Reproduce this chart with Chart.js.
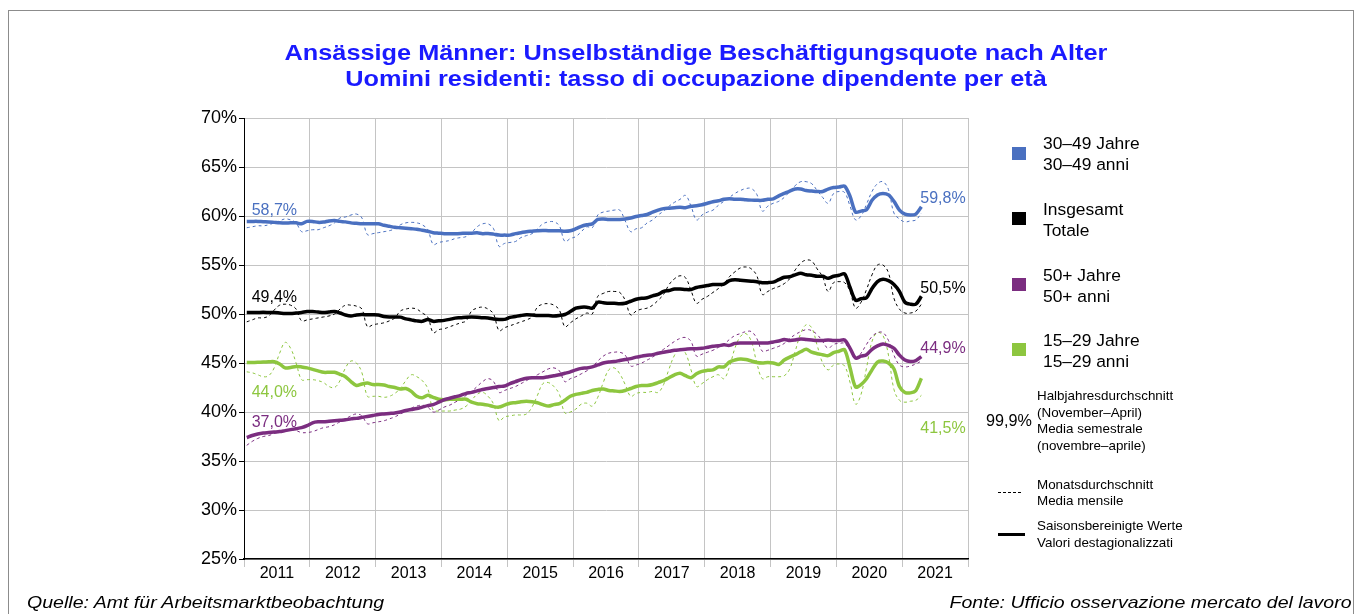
<!DOCTYPE html>
<html>
<head>
<meta charset="utf-8">
<script src="https://cdn.jsdelivr.net/npm/chart.js@4"></script>
<style>
  html, body { margin: 0; padding: 0; background: #fff; }
  body { width: 1357px; height: 614px; position: relative; overflow: hidden; font-family: "Liberation Sans", Arial, sans-serif; color: #000; }
  #frame { position: absolute; left: 8px; top: 10px; right: 3px; height: 640px; border: 1px solid #8c8c8c; }
  #c { position: absolute; left: 0; top: 0; }
  .title { position: absolute; left: 0; width: 1392px; top: 40px; text-align: center; color: #1a1aff; font-weight: bold; font-size: 22px; line-height: 26px; transform: scaleX(1.15); transform-origin: 696px 0; }
  .sw { position: absolute; left: 1012px; width: 14px; height: 13px; }
  .lt { position: absolute; left: 1043px; font-size: 17.4px; line-height: 20.5px; }
  .small { position: absolute; left: 1037px; font-size: 13.4px; line-height: 16.6px; }
  .foot { position: absolute; top: 593px; font-size: 17px; line-height: 20px; font-style: italic; transform: scaleX(1.15); }
</style>
</head>
<body>
<div id="frame"></div>
<canvas id="c" width="1357" height="614"></canvas>
<div class="title">Ansässige Männer: Unselbständige Beschäftigungsquote nach Alter<br>Uomini residenti: tasso di occupazione dipendente per età</div>

<div class="sw" style="top:147px;background:#4a70c0"></div>
<div class="lt" style="top:133px">30–49 Jahre<br>30–49 anni</div>
<div class="sw" style="top:212px;background:#000"></div>
<div class="lt" style="top:199px">Insgesamt<br>Totale</div>
<div class="sw" style="top:278px;background:#7b2d80"></div>
<div class="lt" style="top:265px">50+ Jahre<br>50+ anni</div>
<div class="sw" style="top:343px;background:#8dc63f"></div>
<div class="lt" style="top:330px">15–29 Jahre<br>15–29 anni</div>

<div style="position:absolute;left:986px;top:411px;font-size:16.2px;">99,9%</div>
<div class="small" style="top:388px">Halbjahresdurchschnitt<br>(November–April)<br>Media semestrale<br>(novembre–aprile)</div>
<div style="position:absolute;left:998px;top:492px;width:23px;border-top:1px dashed #000;"></div>
<div class="small" style="top:477px;line-height:15.5px">Monatsdurchschnitt<br>Media mensile</div>
<div style="position:absolute;left:998px;top:533px;width:27px;height:3px;background:#000;"></div>
<div class="small" style="top:518px">Saisonsbereinigte Werte<br>Valori destagionalizzati</div>

<div class="foot" style="left:27px;transform-origin:0 0">Quelle: Amt für Arbeitsmarktbeobachtung</div>
<div class="foot" style="right:5px;transform-origin:100% 0">Fonte: Ufficio osservazione mercato del lavoro</div>

<script>
// years on the x axis, monthly data Jan 2011 - Apr 2021
const years = ['2011', '2012', '2013', '2014', '2015', '2016', '2017', '2018', '2019', '2020', '2021'];

// 30-49 Jahre
const blueSA = [
  59.45, 59.45, 59.45, 59.42, 59.4, 59.35, 59.3, 59.28, 59.3, 59.3, 59.2, 59.45,
  59.45, 59.35, 59.38, 59.5, 59.55, 59.45, 59.4, 59.3, 59.25, 59.2, 59.2, 59.2,
  59.2, 59.05, 58.95, 58.85, 58.8, 58.75, 58.7, 58.65, 58.55, 58.45, 58.3, 58.25,
  58.2, 58.2, 58.2, 58.22, 58.25, 58.25, 58.28, 58.2, 58.22, 58.15, 58.05, 58.05,
  58.05, 58.2, 58.3, 58.4, 58.45, 58.5, 58.53, 58.5, 58.5, 58.5, 58.45, 58.5,
  58.7, 58.95, 59.1, 59.2, 59.65, 59.7, 59.65, 59.65, 59.65, 59.7, 59.8, 59.95,
  60.05, 60.15, 60.4, 60.6, 60.75, 60.8, 60.85, 60.9, 60.85, 61.0, 61.05, 61.15,
  61.3, 61.45, 61.55, 61.7, 61.75, 61.7, 61.7, 61.65, 61.62, 61.6, 61.6, 61.7,
  61.75, 62.05, 62.3, 62.55, 62.75, 62.75, 62.6, 62.55, 62.5, 62.5, 62.75, 62.9,
  62.95, 63.05, 62.0, 60.4, 60.5, 60.65, 61.6, 62.15, 62.3, 62.15, 61.5, 60.6,
  60.2, 60.1, 60.2, 60.95
];
const blueM = [
  58.8, 58.9, 59.0, 59.0, 59.1, 59.3, 59.5, 59.7, 59.6, 59.3, 58.4, 58.5,
  58.6, 58.6, 58.8, 59.0, 59.3, 59.8, 59.9, 60.1, 60.2, 59.8, 58.1, 58.2,
  58.3, 58.4, 58.5, 58.7, 59.1, 59.3, 59.35, 59.3, 59.1, 58.6, 57.1, 57.3,
  57.4, 57.5, 57.7, 57.8, 57.9, 58.3, 58.9, 59.2, 59.2, 58.7, 56.9, 57.2,
  57.3, 57.4, 57.8, 58.0, 58.2, 58.7, 59.2, 59.4, 59.4, 59.0, 57.4, 57.7,
  57.9, 58.4, 58.9, 58.8, 60.1, 60.4, 60.5, 60.6, 60.6, 59.5, 58.4, 58.7,
  58.8, 59.3, 59.6, 60.1, 60.5, 61.0, 61.4, 61.7, 62.1, 61.0, 59.6, 60.1,
  60.4, 60.6, 61.1, 61.5, 61.9, 62.3, 62.6, 62.8, 62.8, 62.2, 60.5, 61.0,
  61.3, 61.5, 61.9, 62.5, 63.1, 63.5, 63.5, 63.3, 62.6, 61.9, 61.3, 62.3,
  62.5, 62.4, 61.0, 59.6, 60.0, 61.2, 62.5, 63.3, 63.5, 62.7, 60.3, 59.7,
  59.4, 59.5, 59.6, 60.3
];

// Insgesamt
const totalSA = [
  50.15, 50.15, 50.16, 50.17, 50.16, 50.15, 50.1, 50.05, 50.05, 50.1, 50.15, 50.25,
  50.25, 50.2, 50.15, 50.2, 50.25, 50.1, 49.9, 49.8, 49.9, 49.95, 49.92, 49.92,
  49.9, 49.75, 49.7, 49.7, 49.68, 49.5, 49.4, 49.3, 49.25, 49.45, 49.25, 49.3,
  49.35, 49.45, 49.58, 49.62, 49.68, 49.7, 49.68, 49.62, 49.6, 49.5, 49.45, 49.45,
  49.65, 49.75, 49.85, 49.92, 49.9, 49.85, 49.85, 49.85, 49.8, 49.85, 49.95, 50.25,
  50.6, 50.7, 50.7, 50.6, 51.2, 51.15, 51.1, 51.1, 51.05, 51.1, 51.3, 51.5,
  51.6, 51.65, 51.85, 52.0, 52.3, 52.4, 52.55, 52.55, 52.5, 52.5, 52.7, 52.8,
  52.9, 53.0, 53.0, 53.05, 53.4, 53.5, 53.45, 53.4, 53.35, 53.3, 53.2, 53.2,
  53.25, 53.5, 53.75, 53.8, 54.0, 54.15, 54.0, 53.95, 53.85, 53.85, 53.65, 53.85,
  53.95, 54.1, 52.7, 51.4, 51.55, 51.65, 52.6, 53.3, 53.55, 53.4, 53.0, 52.3,
  51.2, 51.0, 51.0, 51.8
];
const totalM = [
  49.2, 49.4, 49.6, 49.6, 49.8, 50.4, 50.9, 51.0, 50.9, 50.5, 49.3, 49.4,
  49.5, 49.6, 49.7, 49.8, 50.0, 50.5, 50.9, 50.9, 50.8, 50.5, 48.7, 48.9,
  49.0, 49.1, 49.3, 49.6, 50.3, 50.5, 50.6, 50.5, 50.1, 49.7, 48.1, 48.4,
  48.5, 48.7, 48.9, 49.1, 49.3, 50.3, 50.6, 50.7, 50.5, 50.0, 48.3, 48.6,
  48.8, 49.0, 49.2, 49.4, 49.7, 50.7, 51.0, 51.05, 50.9, 50.4, 48.7, 49.1,
  49.5, 49.8, 50.1, 50.0, 51.8, 52.1, 52.3, 52.3, 52.2, 51.4, 49.9, 50.3,
  50.5, 50.6, 50.9, 51.4, 52.0, 53.0, 53.6, 53.9, 53.7, 52.4, 51.1, 51.5,
  51.8, 52.2, 52.6, 53.1, 53.8, 54.3, 54.7, 54.8, 54.6, 53.9, 52.0, 52.3,
  52.6, 52.8, 53.1, 53.6, 54.5, 55.2, 55.5, 55.4, 54.6, 53.8, 52.3, 53.2,
  53.3, 53.2, 52.3, 50.6, 51.2, 52.5, 54.0, 55.0, 55.0, 54.2, 51.6, 50.5,
  50.1, 50.1, 50.3, 51.0
];

// 50+ Jahre
const oldSA = [
  37.4, 37.6, 37.75, 37.85, 37.9, 37.95, 38.0, 38.1, 38.2, 38.3, 38.4, 38.6,
  38.9, 39.0, 39.0, 39.05, 39.1, 39.15, 39.2, 39.3, 39.35, 39.45, 39.55, 39.65,
  39.75, 39.8, 39.85, 39.9, 40.0, 40.15, 40.25, 40.35, 40.5, 40.65, 40.75, 41.0,
  41.25, 41.4, 41.55, 41.7, 41.9, 42.0, 42.15, 42.3, 42.4, 42.5, 42.6, 42.65,
  42.9, 43.1, 43.3, 43.45, 43.5, 43.5, 43.5, 43.6, 43.7, 43.8, 43.95, 44.1,
  44.3, 44.45, 44.5, 44.6, 44.8, 45.0, 45.1, 45.15, 45.25, 45.35, 45.45, 45.6,
  45.7, 45.8, 45.85, 46.0, 46.1, 46.2, 46.3, 46.35, 46.4, 46.45, 46.45, 46.5,
  46.6, 46.7, 46.75, 46.85, 46.8, 47.0, 47.05, 47.05, 47.05, 47.05, 47.05, 47.05,
  47.15, 47.25, 47.4, 47.3, 47.35, 47.45, 47.4, 47.35, 47.3, 47.3, 47.35, 47.3,
  47.3, 47.35, 46.5, 45.5, 45.7, 45.85, 46.4, 46.75, 46.95, 46.8, 46.5, 45.8,
  45.3, 45.15, 45.25, 45.65
];
const oldM = [
  36.6, 37.0, 37.3, 37.5, 37.6, 37.8, 38.0, 38.2, 38.2, 38.1, 37.9, 37.9,
  38.0, 38.2, 38.4, 38.5, 38.7, 39.0, 39.3, 39.6, 39.8, 39.6, 38.8, 38.9,
  39.0, 39.1, 39.3, 39.5, 39.8, 40.1, 40.4, 40.6, 40.7, 40.5, 40.0, 40.2,
  40.5, 40.7, 41.0, 41.3, 41.7, 42.1, 42.6, 43.1, 43.4, 43.1, 42.0, 42.2,
  42.4, 42.6, 42.9, 43.2, 43.5, 43.8, 44.1, 44.4, 44.5, 44.2, 43.1, 43.4,
  43.6, 43.9, 44.2, 44.6, 45.2, 45.7, 46.0, 46.1, 46.1, 45.8, 44.7, 44.8,
  45.0, 45.3, 45.6, 46.0, 46.4, 46.8, 47.2, 47.5, 47.6, 47.2, 45.7, 45.9,
  46.1, 46.3, 46.6, 46.9, 47.4, 47.8, 48.0, 48.2, 48.2, 47.5, 46.2, 46.3,
  46.5, 46.7, 47.0, 47.5, 47.9, 48.2, 48.4, 48.3, 47.9, 47.2, 46.5, 46.9,
  47.0, 47.0, 46.3, 45.4, 46.0, 46.9, 47.7, 48.1, 48.1, 47.3, 45.8, 44.8,
  44.6, 44.7, 44.9, 45.2
];

// 15-29 Jahre
const youngSA = [
  45.05, 45.05, 45.07, 45.1, 45.12, 45.13, 44.9, 44.5, 44.55, 44.65, 44.6, 44.5,
  44.35, 44.2, 44.05, 44.05, 44.05, 43.85, 43.6, 43.1, 42.7, 42.85, 42.95, 42.8,
  42.8, 42.75, 42.6, 42.5, 42.35, 42.4, 42.1, 41.6, 41.45, 41.7, 41.5, 41.3,
  41.25, 41.3, 41.3, 41.3, 41.3, 41.0, 40.85, 40.8, 40.7, 40.55, 40.5, 40.7,
  40.9, 40.95, 41.05, 41.1, 41.05, 40.95, 40.75, 40.6, 40.75, 40.85, 41.2, 41.6,
  41.8, 41.9, 42.0, 42.2, 42.3, 42.35, 42.2, 42.15, 42.1, 42.2, 42.4, 42.6,
  42.7, 42.7, 42.8, 43.0, 43.2, 43.5, 43.8, 43.95, 43.7, 43.5, 43.9, 44.15,
  44.25, 44.3, 44.6, 44.6, 45.1, 45.3, 45.4, 45.35, 45.2, 45.05, 45.0, 45.05,
  45.0, 44.85, 45.3, 45.6, 45.85, 46.15, 46.4, 46.1, 45.95, 45.85, 45.75, 46.05,
  46.2, 46.35, 44.5, 42.55, 42.8, 43.4, 44.3, 45.1, 45.2, 45.0, 44.4, 42.6,
  42.0, 41.95, 42.2, 43.45
];
const youngM = [
  44.1, 44.0, 43.8, 43.6, 43.7, 44.5, 46.0, 47.1, 46.5, 45.0, 43.3, 43.3,
  43.3, 43.2, 43.0, 42.6, 42.5, 43.2, 44.5, 45.2, 45.0, 44.0, 41.6, 41.6,
  41.6, 41.5, 41.6, 41.9, 42.4, 43.2, 43.8, 43.6, 43.2, 42.4, 40.2, 40.1,
  40.1, 40.1, 40.2, 40.3, 40.6, 41.2, 41.8, 42.0, 41.6, 40.8, 39.1, 39.5,
  39.6, 39.7, 39.7, 39.8, 40.5, 41.7, 42.9, 43.0, 42.6, 41.8, 39.9, 40.0,
  40.3, 40.8, 40.9, 40.6, 41.5, 43.0, 44.3, 44.5, 43.9, 42.8, 41.6, 41.9,
  42.0, 42.0, 42.1, 42.0, 42.8, 44.4, 45.8, 46.5, 46.0, 44.3, 42.6, 42.9,
  43.3, 43.6, 43.8, 43.4, 44.6, 46.5, 47.7, 48.0, 47.2, 45.0, 43.4, 43.6,
  43.6, 43.6, 43.7, 44.4, 46.2, 48.0, 48.9, 48.6, 46.8, 45.0, 44.3, 44.8,
  44.9, 44.7, 43.0, 40.8, 41.8, 44.5, 47.2, 48.1, 47.8, 45.8, 42.3, 41.2,
  41.0, 41.1, 41.2, 41.7
];

// half-year averages (November-April) at start and end
const startAvg = [58.7, 49.4, 37.0, 44.0];
const endAvg = [59.8, 50.5, 44.9, 41.5];

const BLUE = '#4a70c0', BLACK = '#000000', PURPLE = '#7b2d80', GREEN = '#8dc63f';
const colors = [BLUE, BLACK, PURPLE, GREEN];

const toPts = arr => arr.map((v, i) => ({ x: i + 0.5, y: v }));

function sa(data, color, order) {
  return { data: toPts(data), borderColor: color, borderWidth: 3.5, pointRadius: 0, tension: 0.3, order: order, fill: false };
}
function monthly(data, color, order) {
  return { data: toPts(data), borderColor: color, borderWidth: 1, borderDash: [3, 3], pointRadius: 0, tension: 0.4, order: order, fill: false };
}

const fmt = v => v.toFixed(1).replace('.', ',') + '%';

// label anchors in chart units (month, percent)
const labelPos = {
  start: [[1.4, 60.6], [1.4, 51.7], [1.4, 38.95], [1.4, 42.0]],
  end: [[123.3, 61.75], [123.3, 52.6], [123.3, 46.45], [123.3, 38.3]]
};

const avgLabels = {
  id: 'avgLabels',
  afterDatasetsDraw(chart) {
    const { ctx, scales: { x, y } } = chart;
    ctx.save();
    ctx.font = '16px "Liberation Sans", Arial, sans-serif';
    ctx.textBaseline = 'middle';
    ctx.textAlign = 'left';
    colors.forEach((c, i) => {
      ctx.fillStyle = c;
      ctx.fillText(fmt(startAvg[i]), x.getPixelForValue(labelPos.start[i][0]), y.getPixelForValue(labelPos.start[i][1]));
      ctx.fillText(fmt(endAvg[i]), x.getPixelForValue(labelPos.end[i][0]), y.getPixelForValue(labelPos.end[i][1]));
    });
    ctx.restore();
  }
};

const gridGray = '#c4c4c4';

new Chart(document.getElementById('c'), {
  type: 'line',
  data: {
    datasets: [
      sa(blueSA, BLUE, 0),
      sa(totalSA, BLACK, 1),
      sa(oldSA, PURPLE, 2),
      sa(youngSA, GREEN, 3),
      monthly(blueM, BLUE, 4),
      monthly(totalM, BLACK, 5),
      monthly(oldM, PURPLE, 6),
      monthly(youngM, GREEN, 7)
    ]
  },
  options: {
    responsive: false,
    animation: false,
    layout: { padding: { left: 190, right: 389, top: 118, bottom: 25 } },
    plugins: { legend: { display: false }, tooltip: { enabled: false } },
    scales: {
      x: {
        type: 'linear',
        min: 0,
        max: years.length * 12,
        afterBuildTicks: axis => {
          const t = [];
          for (let i = 0; i <= years.length; i++) {
            t.push({ value: i * 12 });
            if (i < years.length) t.push({ value: i * 12 + 6 });
          }
          axis.ticks = t;
        },
        afterFit: s => { s.height = 30; },
        ticks: {
          autoSkip: false,
          maxRotation: 0,
          padding: -3,
          color: '#000',
          font: { size: 16, family: '"Liberation Sans", Arial, sans-serif' },
          callback: v => (v % 12 === 6 ? years[(v - 6) / 12] : '')
        },
        grid: {
          color: c => (c.tick && c.tick.value % 12 === 0 ? gridGray : 'rgba(0,0,0,0)'),
          tickColor: c => (c.tick && c.tick.value % 12 === 0 ? gridGray : 'rgba(0,0,0,0)'),
          tickLength: 8,
          lineWidth: 1
        },
        border: { color: '#000', width: 1.5 }
      },
      y: {
        min: 25,
        max: 70,
        afterFit: s => { s.width = 54; },
        ticks: {
          stepSize: 5,
          padding: 2,
          color: '#000',
          font: { size: 18, family: '"Liberation Sans", Arial, sans-serif' },
          callback: v => v + '%'
        },
        grid: { color: gridGray, tickColor: '#000', tickLength: 5, lineWidth: 1 },
        border: { color: '#000', width: 1 }
      }
    }
  },
  plugins: [avgLabels]
});
</script>
</body>
</html>
